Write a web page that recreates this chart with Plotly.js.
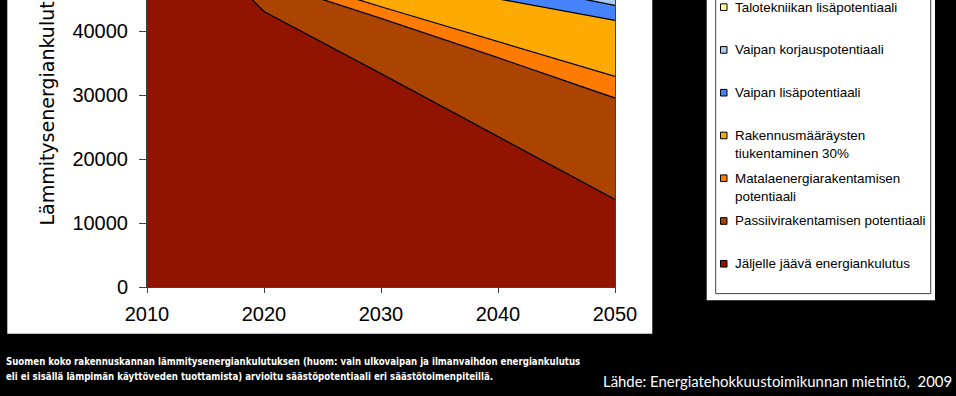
<!DOCTYPE html>
<html>
<head>
<meta charset="utf-8">
<script src="https://cdn.plot.ly/plotly-3.0.1.min.js"></script>
<style>
html,body{margin:0;padding:0;background:#000;overflow:hidden;width:956px;height:396px;}
#chart{position:absolute;left:0;top:-90px;width:956px;height:486px;}
</style>
</head>
<body>
<div id="chart"></div>
<script>
// ---- data ----
const years = [2010, 2020, 2030, 2040, 2050];
// stacked layer thicknesses (bottom to top)
const remaining      = [61370, 43070, 33370, 23490, 13690]; // Jäljelle jäävä energiankulutus
const passive        = [0, 4870, 8620, 12360, 15860];       // Passiivirakentamisen potentiaali
const lowEnergy      = [0, 1540, 1830, 2550, 3370];         // Matalaenergiarakentamisen potentiaali
const regulations30  = [0, 2000, 4000, 6660, 8770];         // Rakennusmääräysten tiukentaminen 30%
const envelopeExtra  = [0, 1000, 1800, 2590, 2350];         // Vaipan lisäpotentiaali
const envelopeRepair = [0, 1000, 1500, 1800, 2000];         // Vaipan korjauspotentiaali
const hvacExtra      = [0, 1000, 1500, 2000, 2500];         // Talotekniikan lisäpotentiaali

const seriesNames = [
  "Jäljelle jäävä energiankulutus",
  "Passiivirakentamisen potentiaali",
  "Matalaenergiarakentamisen<br>potentiaali",
  "Rakennusmääräysten<br>tiukentaminen 30%",
  "Vaipan lisäpotentiaali",
  "Vaipan korjauspotentiaali",
  "Talotekniikan lisäpotentiaali"
];
const seriesValues = [remaining, passive, lowEnergy, regulations30, envelopeExtra, envelopeRepair, hvacExtra];
const seriesColors = ["#911400", "#AA4400", "#FF7B00", "#FFAA00", "#4682FA", "#A8CCF2", "#FFFF99"];

const xTicks = [2010, 2020, 2030, 2040, 2050];
const yTicks = [0, 10000, 20000, 30000, 40000];
const yTitle = "Lämmitysenergiankulutus";
const captionLines = [
  "Suomen koko rakennuskannan lämmitysenergiankulutuksen (huom: vain ulkovaipan ja ilmanvaihdon energiankulutus",
  "eli ei sisällä lämpimän käyttöveden tuottamista) arvioitu säästöpotentiaali eri säästötoimenpiteillä."
];
const sourceText = "Lähde: Energiatehokkuustoimikunnan mietintö,\u00a0 2009";

// ---- geometry (page pixels) ----
const OFF = 90;             // div shifted up
const mL = 147, plotW = 468;
const plotBottom = 286.7;   // page y of value 0
const plotTop = -81.7;      // page y of plot top
const plotH = plotBottom - plotTop;
const yMax = plotH / 6.385 * 1000;
const px = x => (x - mL) / plotW;
const py = y => (plotBottom - y) / plotH;

const traces = seriesValues.map((v, i) => ({
  type: "scatter", mode: "lines", x: years, y: v,
  name: seriesNames[i].replace("<br>", " "),
  stackgroup: "one",
  line: {color: "#000", width: 1.3},
  fillcolor: seriesColors[i],
  showlegend: false,
  hoverinfo: "skip"
}));

const shapes = [
  // white chart panel
  {type:"rect", xref:"paper", yref:"paper", x0:px(7.3), x1:px(652.3), y0:py(333.3), y1:py(-95), fillcolor:"#fff", line:{width:0}, layer:"below"},
  // white legend panel
  {type:"rect", xref:"paper", yref:"paper", x0:px(706.7), x1:px(935), y0:py(300), y1:py(-95), fillcolor:"#fff", line:{width:0}, layer:"below"},
  // legend border
  {type:"rect", xref:"paper", yref:"paper", x0:px(715.7), x1:px(930.7), y0:py(293.3), y1:py(-95), fillcolor:"rgba(0,0,0,0)", line:{width:1, color:"#404040"}, layer:"above"}
];
const annotations = [];
// manual legend (top to bottom)
const legendOrder = [6, 5, 4, 3, 2, 1, 0];
const legendY0 = 7.3, legendStep = 42.7, lineStep = 17.8;
legendOrder.forEach((si, k) => {
  const cy = legendY0 + k * legendStep;
  shapes.push({type:"rect", xref:"paper", yref:"paper",
    x0:px(720.5), x1:px(727), y0:py(cy + 3.3), y1:py(cy - 3.3),
    fillcolor: seriesColors[si], line:{width:1, color:"#000"}, layer:"above"});
  seriesNames[si].split("<br>").forEach((ln, j) => {
    annotations.push({xref:"paper", yref:"paper", x:px(733), y:py(cy + j * lineStep),
      xanchor:"left", yanchor:"middle", showarrow:false, text: ln,
      font:{family:"Liberation Sans, Arial, sans-serif", size:13.4, color:"#000"}});
  });
});
// captions
captionLines.forEach((ln, j) => {
  annotations.push({xref:"paper", yref:"paper", x:px(4), y:py(361.5 + j * 14.2),
    xanchor:"left", yanchor:"middle", showarrow:false, text: "<b>" + ln + "</b>",
    font:{family:"DejaVu Sans Condensed, sans-serif", size:9.6, color:"#fff"}});
});
annotations.push({xref:"paper", yref:"paper", x:px(954), y:py(380.7),
  xanchor:"right", yanchor:"middle", showarrow:false, text: sourceText,
  font:{family:"Lato, sans-serif", size:14.9, color:"#fff"}});

const layout = {
  width: 956, height: 486,
  margin: {l: mL, r: 956 - mL - plotW, t: plotTop + OFF, b: 486 - (plotBottom + OFF)},
  paper_bgcolor: "#000",
  plot_bgcolor: "#fff",
  showlegend: false,
  font: {family: "Liberation Sans, Arial, sans-serif", color: "#000"},
  xaxis: {
    range: [2010, 2050], tickvals: xTicks, ticktext: xTicks.map(String),
    ticks: "outside", ticklen: 5, tickcolor: "#404040", tickwidth: 1,
    showline: true, linecolor: "#404040", linewidth: 1,
    showgrid: false, zeroline: false,
    tickfont: {size: 20, color: "#000"}, ticklabelstandoff: 4
  },
  yaxis: {
    range: [0, yMax], tickvals: yTicks, ticktext: yTicks.map(String),
    ticks: "outside", ticklen: 7, tickcolor: "#404040", tickwidth: 1,
    showline: true, mirror: true, linecolor: "#404040", linewidth: 1,
    showgrid: false, zeroline: false,
    tickfont: {size: 20, color: "#000"}, ticklabelstandoff: 7,
    title: {text: yTitle, font: {family: "DejaVu Sans, sans-serif", size: 19, color: "#000"}, standoff: 12}
  },
  shapes: shapes,
  annotations: annotations
};

Plotly.newPlot("chart", traces, layout, {staticPlot: true, displayModeBar: false});
</script>
</body>
</html>
